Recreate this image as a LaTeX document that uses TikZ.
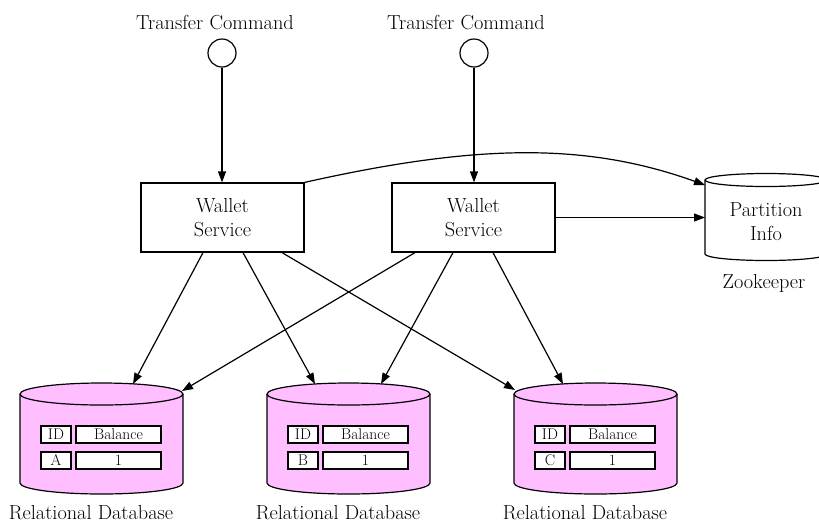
\documentclass[tikz,border=0pt]{standalone}
\usepackage{fontspec}
\usetikzlibrary{arrows.meta,calc}
\definecolor{dbpink}{RGB}{255,190,255}
\tikzset{
  edge/.style={line width=1.2pt, -{Triangle[length=11pt,width=8pt]}},
  service/.style={draw, line width=1.2pt, minimum width=163pt, minimum height=69pt,
    align=center, font=\fontsize{20.3}{24}\selectfont, inner sep=0pt},
  port/.style={draw, circle, line width=1.2pt, minimum size=28pt, inner sep=0pt},
  caption/.style={font=\fontsize{20.3}{24}\selectfont, anchor=base, inner sep=0pt},
  cell/.style={draw, fill=white, line width=1.4pt, minimum height=17pt, inner sep=0pt,
    font=\fontsize{15.5}{17}\selectfont},
  idcell/.style={cell, minimum width=30pt},
  balcell/.style={cell, minimum width=85pt},
  cyl/.style={draw, line width=1.2pt},
}
% cylinder: fill, centre x, top y, bottom y, x radius, y radius
\newcommand\drawcyl[6]{%
  \filldraw[cyl, fill=#1] (#2-#5,#3) -- (#2-#5,#4)
    arc[start angle=180, end angle=360, x radius=#5pt, y radius=#6pt]
    -- (#2+#5,#3)
    arc[start angle=0, end angle=180, x radius=#5pt, y radius=#6pt] -- cycle;
  \draw[cyl] (#2-#5,#3)
    arc[start angle=180, end angle=360, x radius=#5pt, y radius=#6pt];
}
% one relational database with its table: name, centre x, id letter
\newcommand\dbtable[3]{%
  \drawcyl{dbpink}{#2}{394}{483}{81.5}{11}
  \node[minimum width=163pt, minimum height=111pt, inner sep=0pt] (#1) at (#2,438.5) {};
  \node[idcell]  (#1-idh)  at (#2-45.5,434.5) {ID};
  \node[balcell] (#1-balh) at (#2+17,434.5)   {Balance};
  \node[idcell]  (#1-id)   at (#2-45.5,460.5) {#3};
  \node[balcell] (#1-bal)  at (#2+17,460.5)   {1};
  \node[caption] (#1-cap)  at (#2-10.5,519)   {Relational Database};
}
\begin{document}
\begin{tikzpicture}[x=1pt, y=-1pt]
  \useasboundingbox (0,0) rectangle (819,523);

  % command inputs
  \node[caption] (cmd1-cap) at (215,29) {Transfer Command};
  \node[caption] (cmd2-cap) at (466,29) {Transfer Command};
  \node[port] (cmd1) at (222,53) {};
  \node[port] (cmd2) at (474,53) {};

  % services
  \node[service] (ws1) at (222.5,217.5) {Wallet\\Service};
  \node[service] (ws2) at (473.5,217.5) {Wallet\\Service};

  % zookeeper store
  \drawcyl{white}{766}{180}{254}{61}{6.5}
  \node[align=center, font=\fontsize{20.3}{24}\selectfont, inner sep=0pt] (zk) at (766,222) {Partition\\Info};
  \node[caption] (zk-cap) at (764,288) {Zookeeper};
  \coordinate (zk-in1) at (705,185);
  \coordinate (zk-in2) at (705,217.5);

  % databases
  \dbtable{db1}{101.5}{A}
  \dbtable{db2}{348.5}{B}
  \dbtable{db3}{595.5}{C}
  \coordinate (db1-in1) at (133,384);
  \coordinate (db1-in2) at (182,391);
  \coordinate (db2-in1) at (315,384);
  \coordinate (db2-in2) at (381,384);
  \coordinate (db3-in1) at (515,390);
  \coordinate (db3-in2) at (563,384);

  % connectors
  \draw[edge] (cmd1) -- (cmd1 |- ws1.north);
  \draw[edge] (cmd2) -- (cmd2 |- ws2.north);
  \draw[edge] (ws1.north east) .. controls (480,143) and (588,143) .. (zk-in1);
  \draw[edge] (ws2.east) -- (zk-in2);

  \draw[edge] ($(ws1.south)+(-19.5,0)$) -- (db1-in1);
  \draw[edge] ($(ws1.south)+(20.5,0)$)  -- (db2-in1);
  \draw[edge] ($(ws1.south)+(59.5,0)$)  -- (db3-in1);
  \draw[edge] ($(ws2.south)+(-58.5,0)$) -- (db1-in2);
  \draw[edge] ($(ws2.south)+(-20.5,0)$) -- (db2-in2);
  \draw[edge] ($(ws2.south)+(19.5,0)$)  -- (db3-in2);
\end{tikzpicture}
\end{document}
